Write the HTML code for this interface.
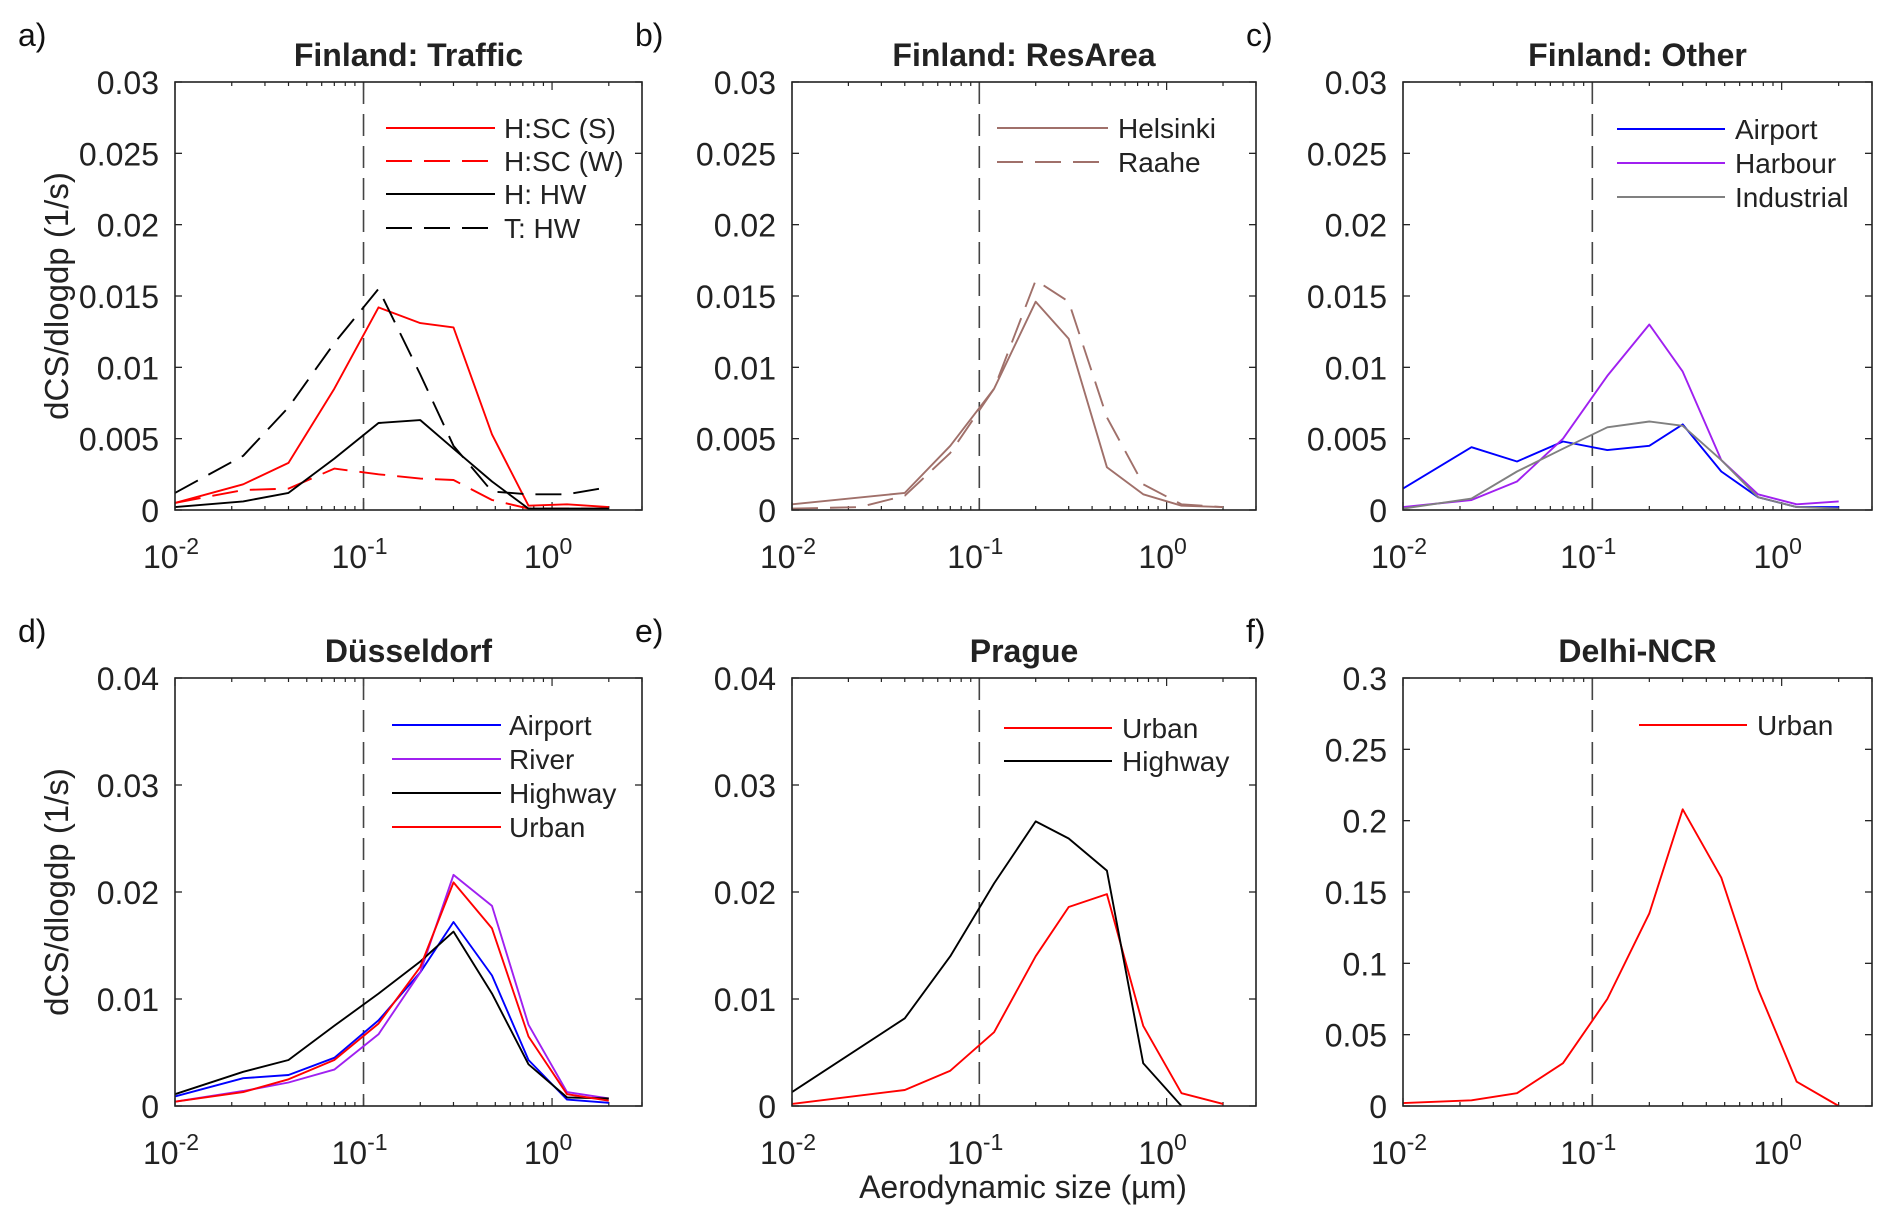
<!DOCTYPE html>
<html><head><meta charset="utf-8">
<style>
html,body{margin:0;padding:0;background:#fff;}
svg{display:block;font-family:"Liberation Sans",sans-serif;}
</style></head>
<body>
<svg id="fig" width="1892" height="1225" viewBox="0 0 1892 1225" xmlns="http://www.w3.org/2000/svg"></svg>
<script>
// Shared size bins (µm)
const sizes = [0.01, 0.023, 0.04, 0.07, 0.12, 0.2, 0.3, 0.48, 0.75, 1.2, 2.0];
const sizesB = [0.01, 0.04, 0.07, 0.12, 0.2, 0.3, 0.48, 0.75, 1.2, 2.0];
const xTickLabels = ["-2", "-1", "0"];

// Panel a
const aSCS = [0.0005, 0.0018, 0.0033, 0.0085, 0.0142, 0.0131, 0.0128, 0.0053, 0.0003, 0.0004, 0.0002];
const aSCW = [0.0005, 0.0014, 0.0015, 0.0029, 0.0025, 0.0022, 0.0021, 0.0007, 0.0001, 0.0001, 0.0001];
const aHHW = [0.0002, 0.0006, 0.0012, 0.0036, 0.0061, 0.0063, 0.0043, 0.0020, 0.0001, 0.0001, 0.0001];
const aTHW = [0.0012, 0.0038, 0.0072, 0.0117, 0.0155, 0.0095, 0.0045, 0.0013, 0.0011, 0.0011, 0.0016];
// Panel b
const bHel = [0.0004, 0.0012, 0.0045, 0.0085, 0.0146, 0.0120, 0.0030, 0.0011, 0.0003, 0.0002];
const bRaa = [0.0001, 0.0002, 0.0010, 0.0040, 0.0085, 0.0161, 0.0146, 0.0065, 0.0018, 0.0004, 0.0002];
// Panel c
const cAir = [0.0015, 0.0044, 0.0034, 0.0048, 0.0042, 0.0045, 0.0060, 0.0027, 0.0009, 0.0002, 0.0002];
const cHar = [0.0002, 0.0007, 0.0020, 0.0050, 0.0094, 0.0130, 0.0097, 0.0035, 0.0011, 0.0004, 0.0006];
const cInd = [0.0001, 0.0008, 0.0027, 0.0043, 0.0058, 0.0062, 0.0059, 0.0035, 0.0009, 0.0002, 0.0001];
// Panel d
const dAir = [0.0009, 0.0026, 0.0029, 0.0045, 0.0080, 0.0125, 0.0172, 0.0122, 0.0043, 0.0006, 0.0003];
const dRiv = [0.0004, 0.0014, 0.0022, 0.0034, 0.0067, 0.0125, 0.0216, 0.0187, 0.0076, 0.0013, 0.0007];
const dHwy = [0.0011, 0.0032, 0.0043, 0.0075, 0.0105, 0.0135, 0.0163, 0.0105, 0.0039, 0.0008, 0.0007];
const dUrb = [0.0004, 0.0013, 0.0025, 0.0043, 0.0077, 0.0130, 0.0209, 0.0166, 0.0065, 0.0011, 0.0005];
// Panel e
const eUrb = [0.0002, 0.0015, 0.0033, 0.0069, 0.0140, 0.0186, 0.0198, 0.0075, 0.0012, 0.0002];
const eHwy = [0.0013, 0.0082, 0.0140, 0.0208, 0.0266, 0.0250, 0.0220, 0.0040, 0.0000];
const eHwyX = [0.01, 0.04, 0.07, 0.12, 0.2, 0.3, 0.48, 0.75, 1.2];
// Panel f
const fUrb = [0.002, 0.004, 0.009, 0.030, 0.075, 0.135, 0.208, 0.160, 0.082, 0.017, 0.000];

const yTicks03 = ["0","0.005","0.01","0.015","0.02","0.025","0.03"];
const yTicks04 = ["0","0.01","0.02","0.03","0.04"];
const yTicks3 = ["0","0.05","0.1","0.15","0.2","0.25","0.3"];

const NS = "http://www.w3.org/2000/svg";
const svg = document.getElementById("fig");
function el(tag, attrs, parent){ const e=document.createElementNS(NS,tag); for(const k in attrs) e.setAttribute(k,attrs[k]); (parent||svg).appendChild(e); return e; }

const panels = [
 {id:"a", letter:"a)", title:"Finland: Traffic", x0:175, x1:642, y0:82, y1:510, ymax:0.03, yt:yTicks03,
  series:[{n:"H:SC (S)",x:sizes,y:aSCS,c:"#ff0000",d:""},{n:"H:SC (W)",x:sizes,y:aSCW,c:"#ff0000",d:"26,12"},
          {n:"H: HW",x:sizes,y:aHHW,c:"#000",d:""},{n:"T: HW",x:sizes,y:aTHW,c:"#000",d:"26,12"}],
  leg:{x1:386,x2:495,tx:504,rows:[128,161,194,228]}},
 {id:"b", letter:"b)", title:"Finland: ResArea", x0:792, x1:1256, y0:82, y1:510, ymax:0.03, yt:yTicks03,
  series:[{n:"Helsinki",x:sizesB,y:bHel,c:"#a0706a",d:""},{n:"Raahe",x:sizes,y:bRaa,c:"#a0706a",d:"26,12"}],
  leg:{x1:997,x2:1108,tx:1118,rows:[128,162]}},
 {id:"c", letter:"c)", title:"Finland: Other", x0:1403, x1:1872, y0:82, y1:510, ymax:0.03, yt:yTicks03,
  series:[{n:"Airport",x:sizes,y:cAir,c:"#0000ff",d:""},{n:"Harbour",x:sizes,y:cHar,c:"#a020f0",d:""},{n:"Industrial",x:sizes,y:cInd,c:"#808080",d:""}],
  leg:{x1:1617,x2:1725,tx:1735,rows:[129,163,197]}},
 {id:"d", letter:"d)", title:"Düsseldorf", x0:175, x1:642, y0:678, y1:1106, ymax:0.04, yt:yTicks04,
  series:[{n:"Airport",x:sizes,y:dAir,c:"#0000ff",d:""},{n:"River",x:sizes,y:dRiv,c:"#a020f0",d:""},{n:"Highway",x:sizes,y:dHwy,c:"#000",d:""},{n:"Urban",x:sizes,y:dUrb,c:"#ff0000",d:""}],
  leg:{x1:392,x2:501,tx:509,rows:[725,759,793,827]}},
 {id:"e", letter:"e)", title:"Prague", x0:792, x1:1256, y0:678, y1:1106, ymax:0.04, yt:yTicks04,
  series:[{n:"Urban",x:sizesB,y:eUrb,c:"#ff0000",d:""},{n:"Highway",x:eHwyX,y:eHwy,c:"#000",d:""}],
  leg:{x1:1004,x2:1112,tx:1122,rows:[728,761]}},
 {id:"f", letter:"f)", title:"Delhi-NCR", x0:1403, x1:1872, y0:678, y1:1106, ymax:0.3, yt:yTicks3,
  series:[{n:"Urban",x:sizes,y:fUrb,c:"#ff0000",d:""}],
  leg:{x1:1639,x2:1747,tx:1757,rows:[725]}}
];

const LXMIN=Math.log10(0.01), LXMAX=Math.log10(3);

panels.forEach(p=>{
  const g = el("g",{});
  
  
  const xs = v => p.x0 + (Math.log10(v)-LXMIN)/(LXMAX-LXMIN)*(p.x1-p.x0);
  const ys = v => p.y1 - v/p.ymax*(p.y1-p.y0);
  const W=p.x1-p.x0;
  const lt = el("text",{x:p.x0-157,y:p.y0-36,"font-size":32,fill:"#111"},g); lt.textContent=p.letter;
  
  
  const tt = el("text",{x:(p.x0+p.x1)/2,y:p.y0-16,"font-size":32,"font-weight":"bold","text-anchor":"middle",fill:"#222"},g); tt.textContent=p.title;
  
  
  const n=p.yt.length-1;
  p.yt.forEach((lab,i)=>{
    const v=p.ymax*i/n, y=ys(v);
    el("line",{x1:p.x0,x2:p.x0+7,y1:y,y2:y,stroke:"#222","stroke-width":1.3},g);
    el("line",{x1:p.x1,x2:p.x1-7,y1:y,y2:y,stroke:"#222","stroke-width":1.3},g);
    const t=el("text",{x:p.x0-16,y:y+12,"font-size":32,"text-anchor":"end",fill:"#222"},g); t.textContent=lab;
    
    
  });
  for(let dec=-2; dec<=0; dec++){
    for(let m=1;m<=9;m++){
      const v=m*Math.pow(10,dec); if(v>3) break;
      const x=xs(v), L=m===1?8:4;
      el("line",{x1:x,x2:x,y1:p.y1,y2:p.y1-L,stroke:"#222","stroke-width":1.2},g);
      el("line",{x1:x,x2:x,y1:p.y0,y2:p.y0+L,stroke:"#222","stroke-width":1.2},g);
    }
  }
  xTickLabels.forEach(e=>{
    const x=xs(Math.pow(10,+e));
    const t=el("text",{x:x-4,y:p.y1+58,"font-size":32,"text-anchor":"middle",fill:"#222"},g);
    
    
    t.appendChild(document.createTextNode("10"));
    const s=el("tspan",{dy:-14,"font-size":23},t); s.textContent=e;
  });
  const rl=el("line",{x1:xs(0.1),x2:xs(0.1),y1:p.y0,y2:p.y1,stroke:"#444","stroke-width":1.6,"stroke-dasharray":"22,10"},g);
  
  
  p.series.forEach((s,si)=>{
    const pts=s.x.map((xv,i)=>xs(xv).toFixed(1)+","+ys(s.y[i]).toFixed(1)).join(" ");
    const pl=el("polyline",{points:pts,fill:"none",stroke:s.c,"stroke-width":1.9,"stroke-dasharray":s.d||"none","stroke-linejoin":"round"},g);
    
    
    const ry=p.leg.rows[si];
    const ll=el("line",{x1:p.leg.x1,x2:p.leg.x2,y1:ry,y2:ry,stroke:s.c,"stroke-width":1.9,"stroke-dasharray":s.d||"none"},g);
    
    
    const lt2=el("text",{x:p.leg.tx,y:ry+10,"font-size":28,fill:"#222"},g); lt2.textContent=s.n;
    
    
  });
  const fr=el("rect",{x:p.x0,y:p.y0,width:W,height:p.y1-p.y0,fill:"none",stroke:"#222","stroke-width":1.6},g);
  
  
});

[[57,296],[57,892]].forEach(([x,y])=>{
  const t=el("text",{x:x,y:y,"font-size":33,"text-anchor":"middle",fill:"#222",transform:`rotate(-90 ${x} ${y})`,dy:11});
  
  
  t.textContent="dCS/dlogdp (1/s)";
});
const xt=el("text",{x:1023,y:1198,"font-size":32,"text-anchor":"middle",fill:"#222"});


xt.textContent="Aerodynamic size (µm)";
</script>
</body></html>
